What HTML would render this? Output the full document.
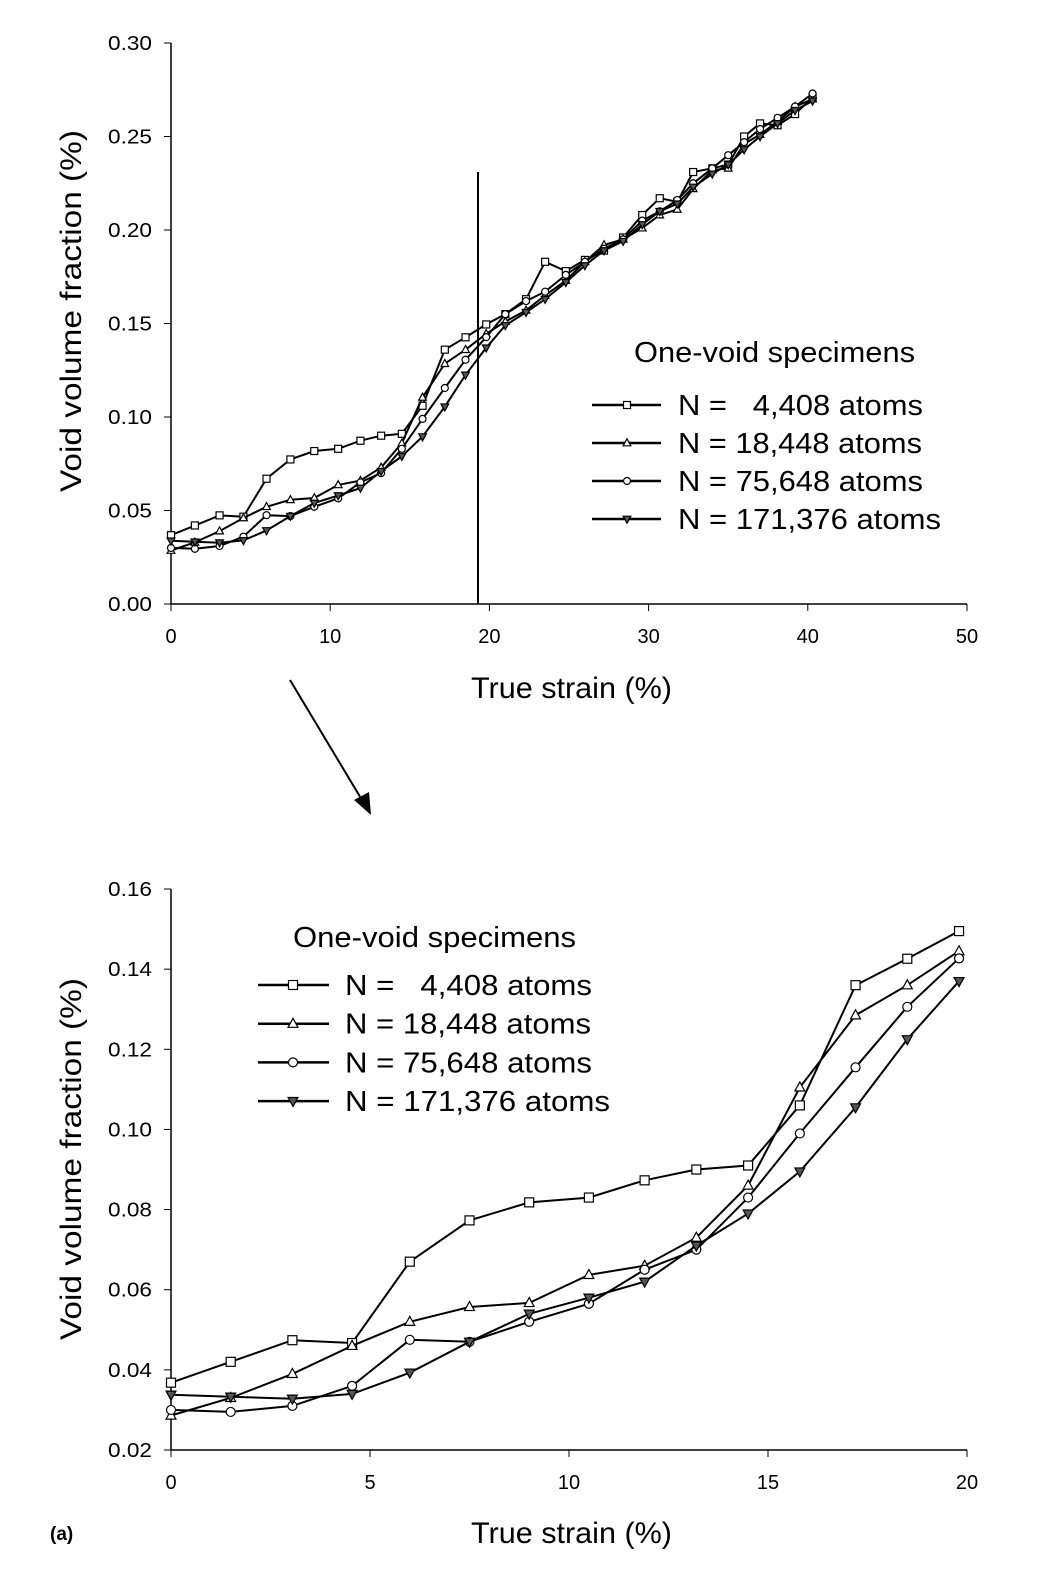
<!DOCTYPE html>
<html><head><meta charset="utf-8"><style>
body{margin:0;background:#fff}
svg text{font-family:"Liberation Sans",Arial,sans-serif;fill:#000}
</style></head><body>
<svg id="s" width="1058" height="1566" viewBox="0 0 1058 1566" xmlns="http://www.w3.org/2000/svg"></svg>
<script>
const S=document.getElementById('s');let h='';
const xs=[0,1.5,3.05,4.55,6.0,7.5,9.0,10.5,11.9,13.2,14.5,15.8,17.2,18.5,19.8];
const ext=[21,22.3,23.5,24.8,26,27.2,28.4,29.6,30.7,31.8,32.8,34,35,36,37,38.1,39.2,40.3];
const sqY=[0.0368,0.042,0.0474,0.0467,0.067,0.0773,0.0818,0.083,0.0873,0.090,0.091,0.106,0.136,0.1426,0.1495];
const sqE=[0.155,0.163,0.183,0.178,0.184,0.189,0.196,0.208,0.217,0.215,0.231,0.233,0.235,0.250,0.257,0.256,0.262,0.271];
const trY=[0.0286,0.033,0.039,0.046,0.052,0.0557,0.0567,0.0637,0.066,0.073,0.086,0.1105,0.1285,0.136,0.1445];
const trE=[0.151,0.157,0.165,0.173,0.183,0.192,0.195,0.201,0.208,0.211,0.222,0.232,0.233,0.246,0.251,0.258,0.266,0.270];
const ciY=[0.030,0.0295,0.031,0.036,0.0475,0.047,0.052,0.0565,0.065,0.070,0.083,0.099,0.1155,0.1306,0.1427];
const ciE=[0.155,0.162,0.167,0.176,0.183,0.190,0.195,0.205,0.210,0.216,0.225,0.233,0.240,0.247,0.254,0.260,0.266,0.273];
const inY=[0.0338,0.0333,0.0328,0.034,0.0393,0.047,0.054,0.058,0.062,0.071,0.079,0.0895,0.1055,0.1225,0.137];
const inE=[0.149,0.156,0.163,0.172,0.181,0.189,0.194,0.203,0.210,0.214,0.223,0.230,0.235,0.243,0.250,0.257,0.264,0.269];
function mk(t,x,y,r){
 if(t==0)return `<rect x="${x-r}" y="${y-r}" width="${2*r}" height="${2*r}" fill="#fff" stroke="#000" stroke-width="1.2"/>`;
 if(t==1)return `<polygon points="${x},${y-r*1.2} ${x-r*1.1},${y+r*0.8} ${x+r*1.1},${y+r*0.8}" fill="#fff" stroke="#000" stroke-width="1.2"/>`;
 if(t==2)return `<circle cx="${x}" cy="${y}" r="${r}" fill="#fff" stroke="#000" stroke-width="1.2"/>`;
 return `<polygon points="${x},${y+r*1.2} ${x-r*1.1},${y-r*0.8} ${x+r*1.1},${y-r*0.8}" fill="#555" stroke="#000" stroke-width="1.2"/>`;
}
function series(t,X,Y,fx,fy,r,lw){
 let p=X.map((x,i)=>fx(x).toFixed(1)+','+fy(Y[i]).toFixed(1)).join(' ');
 h+=`<polyline points="${p}" fill="none" stroke="#000" stroke-width="${lw}"/>`;
 X.forEach((x,i)=>h+=mk(t,fx(x),fy(Y[i]),r));
}
const all=[[0,sqY,sqE],[1,trY,trE],[2,ciY,ciE],[3,inY,inE]];
const L1=["N =   4,408 atoms","N = 18,448 atoms","N = 75,648 atoms","N = 171,376 atoms"];
const LW=[245,244,245,263];
// top chart
const tx=v=>171+v*15.92, ty=v=>604-v*1870;
h+=`<line x1="171" y1="43" x2="171" y2="604" stroke="#000" stroke-width="1.5"/><line x1="171" y1="604" x2="967" y2="604" stroke="#000" stroke-width="1.5"/>`;
for(let i=0;i<=6;i++){let y=ty(i*0.05);h+=`<line x1="164" y1="${y}" x2="171" y2="${y}" stroke="#000"/><text x="108" y="${y+7}" font-size="20" textLength="44" lengthAdjust="spacingAndGlyphs">${(i*0.05).toFixed(2)}</text>`;}
for(let i=0;i<=5;i++){let x=tx(i*10);h+=`<line x1="${x}" y1="604" x2="${x}" y2="611" stroke="#000"/><text x="${x}" y="643" font-size="20" text-anchor="middle">${i*10}</text>`;}
all.forEach(([t,Y,E])=>series(t,xs.concat(ext),Y.concat(E),tx,ty,3.5,2));
h+=`<line x1="478" y1="172" x2="478" y2="604" stroke="#000" stroke-width="2"/>`;
h+=`<text x="471" y="698" font-size="30" textLength="201" lengthAdjust="spacingAndGlyphs">True strain (%)</text>`;
h+=`<text transform="translate(81,492) rotate(-90)" font-size="30" textLength="362" lengthAdjust="spacingAndGlyphs">Void volume fraction (%)</text>`;
h+=`<text x="634" y="362" font-size="29" textLength="281" lengthAdjust="spacingAndGlyphs">One-void specimens</text>`;
L1.forEach((s,i)=>{let y=405+i*38;h+=`<line x1="592" y1="${y}" x2="661" y2="${y}" stroke="#000" stroke-width="2.5"/>`+mk(i,627,y,3.5)+`<text x="678" y="${y+10}" font-size="29" xml:space="preserve" textLength="${LW[i]}" lengthAdjust="spacingAndGlyphs">${s}</text>`;});
// arrow
h+=`<line x1="290" y1="680" x2="362" y2="800" stroke="#000" stroke-width="2"/><polygon points="371,815 354,800 369,792" fill="#000"/>`;
// bottom chart
const bx=v=>171+v*39.8, by=v=>1450-(v-0.02)*4007;
h+=`<line x1="171" y1="889" x2="171" y2="1450" stroke="#000" stroke-width="1.5"/><line x1="171" y1="1450" x2="967" y2="1450" stroke="#000" stroke-width="1.5"/>`;
for(let i=0;i<=7;i++){let v=0.02+i*0.02,y=by(v);h+=`<line x1="164" y1="${y}" x2="171" y2="${y}" stroke="#000"/><text x="108" y="${y+7}" font-size="20" textLength="44" lengthAdjust="spacingAndGlyphs">${v.toFixed(2)}</text>`;}
for(let i=0;i<=4;i++){let x=bx(i*5);h+=`<line x1="${x}" y1="1450" x2="${x}" y2="1457" stroke="#000"/><text x="${x}" y="1489" font-size="20" text-anchor="middle">${i*5}</text>`;}
all.forEach(([t,Y])=>series(t,xs,Y,bx,by,4.5,2));
h+=`<text x="471" y="1543" font-size="30" textLength="201" lengthAdjust="spacingAndGlyphs">True strain (%)</text>`;
h+=`<text transform="translate(81,1340) rotate(-90)" font-size="30" textLength="362" lengthAdjust="spacingAndGlyphs">Void volume fraction (%)</text>`;
h+=`<text x="50" y="1540" font-size="19" font-weight="bold">(a)</text>`;
h+=`<text x="293" y="947" font-size="29" textLength="283" lengthAdjust="spacingAndGlyphs">One-void specimens</text>`;
L1.forEach((s,i)=>{let y=985+i*38.7;h+=`<line x1="258" y1="${y}" x2="329" y2="${y}" stroke="#000" stroke-width="2.5"/>`+mk(i,293,y,4.5)+`<text x="345" y="${y+10}" font-size="29" xml:space="preserve" textLength="${LW[i]+2}" lengthAdjust="spacingAndGlyphs">${s}</text>`;});
S.innerHTML=h;
</script>
</body></html>
